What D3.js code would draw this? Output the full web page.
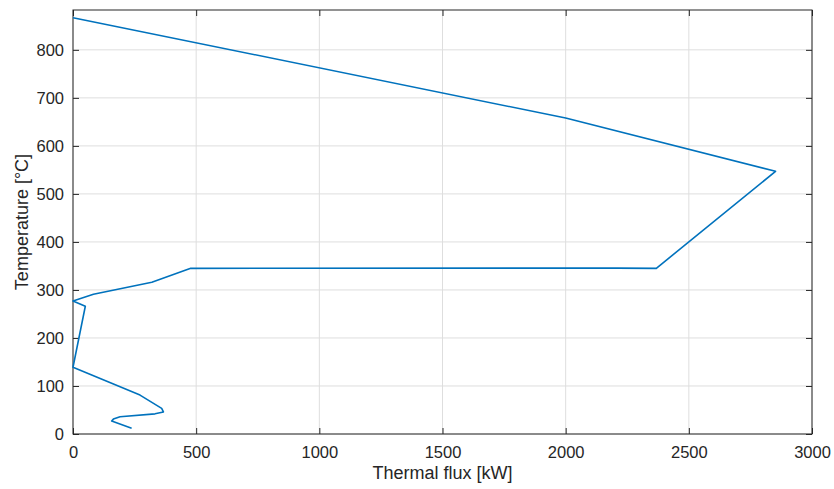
<!DOCTYPE html>
<html>
<head>
<meta charset="utf-8">
<script src="https://cdn.jsdelivr.net/npm/d3@7"></script>
<style>
  body { margin: 0; background: #fff; }
  svg text { font-family: "Liberation Sans", Arial, sans-serif; fill: #262626; }
</style>
</head>
<body>
<div id="chart"></div>
<script>
// data (thermal flux in kW, temperature in °C)
const flux = [0, 2000, 2852, 2368, 2210, 478, 320, 83, 0, 50, 0, 272, 360, 367, 333, 191, 164, 157, 238];
const temperature = [867, 658, 547, 345, 345.5, 345, 316, 291, 277, 266, 139, 81, 53.5, 46, 42, 36, 31, 27, 12];
const xTicks = [0, 500, 1000, 1500, 2000, 2500, 3000];
const yTicks = [0, 100, 200, 300, 400, 500, 600, 700, 800];

const data = flux.map((f, i) => ({ x: f, y: temperature[i] }));

// set the dimensions and margins of the graph
const margin = { top: 10, right: 22, bottom: 55, left: 73 },
  width = 834 - margin.left - margin.right,
  height = 489 - margin.top - margin.bottom;

const svg = d3.select("#chart")
  .append("svg")
  .attr("width", width + margin.left + margin.right)
  .attr("height", height + margin.top + margin.bottom)
  .append("g")
  .attr("transform", `translate(${margin.left},${margin.top})`);

const x = d3.scaleLinear().domain([0, 3000]).range([0, width]);
const y = d3.scaleLinear().domain([0, 883]).range([height, 0]);

// grid
svg.append("g")
  .selectAll("line.vgrid")
  .data(xTicks)
  .enter().append("line")
  .attr("x1", d => x(d)).attr("x2", d => x(d))
  .attr("y1", 0).attr("y2", height)
  .attr("stroke", "#dedede").attr("stroke-width", 1);

svg.append("g")
  .selectAll("line.hgrid")
  .data(yTicks)
  .enter().append("line")
  .attr("x1", 0).attr("x2", width)
  .attr("y1", d => y(d)).attr("y2", d => y(d))
  .attr("stroke", "#dedede").attr("stroke-width", 1);

// axes, ticks pointing inward like matlab
function styleAxis(g) {
  g.select(".domain").remove();
  g.selectAll(".tick line").attr("stroke", "#262626");
  g.selectAll(".tick text").style("font-size", "16.5px").attr("fill", "#262626");
}

svg.append("g")
  .attr("transform", `translate(0,${height})`)
  .call(d3.axisBottom(x).tickValues(xTicks).tickFormat(d3.format("d")).tickSizeInner(-6).tickPadding(12))
  .call(styleAxis);

svg.append("g")
  .call(d3.axisLeft(y).tickValues(yTicks).tickFormat(d3.format("d")).tickSizeInner(-6).tickPadding(9))
  .call(styleAxis);

svg.append("g")
  .call(d3.axisTop(x).tickValues(xTicks).tickSizeInner(-6).tickFormat(""))
  .call(styleAxis);

svg.append("g")
  .attr("transform", `translate(${width},0)`)
  .call(d3.axisRight(y).tickValues(yTicks).tickSizeInner(-6).tickFormat(""))
  .call(styleAxis);

// box
svg.append("rect")
  .attr("x", 0).attr("y", 0)
  .attr("width", width).attr("height", height)
  .attr("fill", "none")
  .attr("stroke", "#262626")
  .attr("stroke-width", 1);

// the line
svg.append("path")
  .datum(data)
  .attr("fill", "none")
  .attr("stroke", "#0072BD")
  .attr("stroke-width", 1.6)
  .attr("stroke-linejoin", "round")
  .attr("d", d3.line().x(d => x(d.x)).y(d => y(d.y)));

// axis labels
svg.append("text")
  .attr("x", width / 2)
  .attr("y", height + 45)
  .attr("text-anchor", "middle")
  .style("font-size", "18px")
  .text("Thermal flux [kW]");

svg.append("text")
  .attr("transform", `translate(${-45},${height / 2}) rotate(-90)`)
  .attr("text-anchor", "middle")
  .style("font-size", "18px")
  .text("Temperature [°C]");
</script>
</body>
</html>
